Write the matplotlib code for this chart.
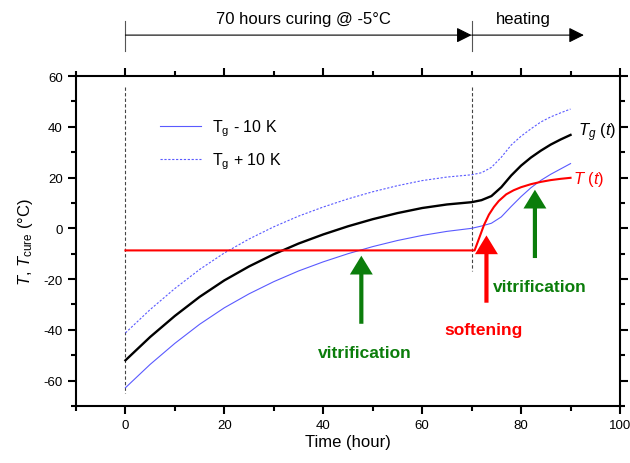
import numpy as np
import matplotlib
matplotlib.use("Agg")
import matplotlib.pyplot as plt
from matplotlib.ticker import MultipleLocator
from matplotlib.lines import Line2D

plt.rcParams['font.family'] = ['Liberation Sans', 'DejaVu Sans']
plt.rcParams['mathtext.fontset'] = 'custom'
plt.rcParams['mathtext.rm'] = 'Liberation Sans'
plt.rcParams['mathtext.it'] = 'Liberation Sans:italic'
plt.rcParams['axes.unicode_minus'] = False

# time axis for the glass transition curves (hours)
t_g = [0, 5, 10, 15, 20, 25, 30, 35, 40, 45, 50, 55, 60, 65, 70,
       72, 74, 76, 78, 80, 82, 84, 86, 88, 90]
# glass transition temperature Tg(t)
tg = [-52.0, -42.8, -34.5, -27.0, -20.5, -15.0, -10.2, -6.0, -2.4, 0.8, 3.6, 6.0, 8.0, 9.4, 10.3,
      11.1, 12.7, 16.2, 20.8, 24.7, 27.9, 30.6, 33.0, 35.0, 36.8]
# Tg - 10 K band
tg_lo = [-62.8, -53.6, -45.3, -37.8, -31.3, -25.8, -21.0, -16.8, -13.2, -10.0, -7.2, -4.8, -2.8, -1.2, 0.0,
         0.9, 2.0, 4.5, 8.6, 12.5, 16.0, 18.9, 21.3, 23.4, 25.5]
# Tg + 10 K band
tg_hi = [-41.2, -32.0, -23.7, -16.2, -9.7, -4.2, 0.6, 4.8, 8.4, 11.6, 14.4, 16.8, 18.8, 20.2, 21.1,
         21.9, 24.0, 28.0, 32.8, 36.3, 39.2, 41.9, 43.9, 45.5, 47.0]

# sample temperature T(t): curing, then heating
t_T = [0, 70.6, 71.5, 72.5, 73.5, 74.5, 75.5, 77, 78.5, 80, 82, 84, 86, 88, 90]
temp = [-8.7, -8.7, -4.0, 1.3, 5.4, 8.4, 10.8, 13.4, 15.0, 16.2, 17.4, 18.3, 19.0, 19.5, 19.9]

# event arrows: (time, tail, tip)
vit1 = (47.7, -37.6, -10.8)
soft = (73.0, -29.3, -2.8)
vit2 = (82.8, -11.7, 15.2)

blue = '#5a5aff'
green = '#0b7d0b'
red = '#ff0000'

fig = plt.figure(figsize=(6.3, 4.64), dpi=100)
ax = fig.add_axes([0.1206, 0.1228, 0.8635, 0.7112])

ax.plot([0, 0], [55.7, -65], color='#444444', lw=0.8, dashes=(3, 2))
ax.plot([70, 70], [55.7, -17], color='#444444', lw=0.8, dashes=(3, 2))

ax.plot(t_g, tg_lo, color=blue, lw=0.8)
ax.plot(t_g, tg_hi, color=blue, lw=0.8, dashes=(2, 1.5))
ax.plot(t_g, tg, color='black', lw=1.7)
ax.plot(t_T, temp, color=red, lw=1.5)

for (x, y0, y1), c in [(vit1, green), (soft, red), (vit2, green)]:
    ax.annotate('', xy=(x, y1), xytext=(x, y0),
                arrowprops=dict(width=3.0, headwidth=16.5, headlength=13.5,
                                shrink=0, color=c, lw=0))

ax.text(48.4, -49, 'vitrification', color=green, fontsize=12.5, fontweight='bold',
        ha='center', va='center')
ax.text(72.5, -40, 'softening', color=red, fontsize=12.5, fontweight='bold',
        ha='center', va='center')
ax.text(83.8, -23, 'vitrification', color=green, fontsize=12.5, fontweight='bold',
        ha='center', va='center')

ax.text(91.5, 38, r'$T_g\ (t)$', fontsize=12, ha='left', va='center')
ax.text(90.5, 19.5, r'$T\ (t)$', color=red, fontsize=12, ha='left', va='center')

# curing / heating timeline above the axes
tr = ax.get_xaxis_transform()
for x in (0, 70):
    ax.plot([x, x], [1.076, 1.167], transform=tr, color='#555555', lw=0.8, clip_on=False)
for x0, x1 in [(0, 70), (70, 92.7)]:
    ax.annotate('', xy=(x1, 1.124), xytext=(x0, 1.124), xycoords=tr, textcoords=tr,
                annotation_clip=False,
                arrowprops=dict(arrowstyle='-|>,head_length=0.4,head_width=0.2',
                                mutation_scale=23, lw=0.8, color='black',
                                shrinkA=0, shrinkB=0))
ax.text(36, 1.174, '70 hours curing @ -5°C', transform=tr, fontsize=12,
        ha='center', va='center')
ax.text(80.4, 1.174, 'heating', transform=tr, fontsize=12, ha='center', va='center')

handles = [Line2D([], [], color=blue, lw=0.8),
           Line2D([], [], color=blue, lw=0.8, dashes=(2, 1.5))]
ax.legend(handles, [r'T$_\mathrm{g}$ - 10 K', r'T$_\mathrm{g}$ + 10 K'],
          loc='upper left', bbox_to_anchor=(0.154, 0.875), frameon=False,
          fontsize=11.5, borderpad=0, borderaxespad=0, handlelength=2.6,
          handletextpad=0.7, labelspacing=0.8)

ax.set_xlim(-10, 100)
ax.set_ylim(-70, 60)
ax.xaxis.set_major_locator(MultipleLocator(20))
ax.xaxis.set_minor_locator(MultipleLocator(10))
ax.yaxis.set_major_locator(MultipleLocator(20))
ax.yaxis.set_minor_locator(MultipleLocator(10))
ax.tick_params(which='both', direction='out', top=True, right=True, width=1.5,
               labelsize=9.5)
ax.tick_params(which='major', length=6)
ax.tick_params(which='minor', length=3.5)
for s in ax.spines.values():
    s.set_linewidth(1.5)

ax.set_xlabel('Time (hour)', fontsize=12, labelpad=2)
ax.set_ylabel(r'$T$, $T_{\mathrm{cure}}$ (°C)', fontsize=12, labelpad=6)

fig.savefig('out.png', dpi=100)
